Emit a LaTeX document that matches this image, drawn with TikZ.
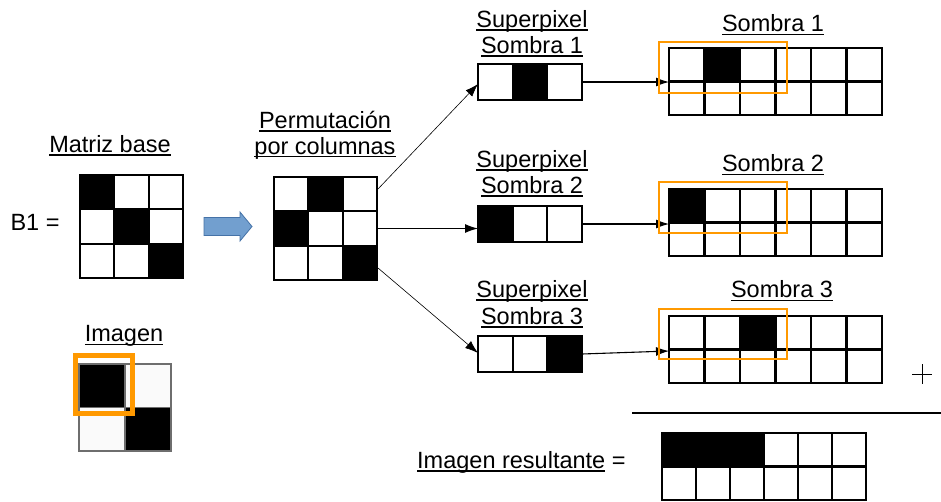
\documentclass[tikz,border=0pt]{standalone}
\usepackage{fontspec}
\setmainfont{Liberation Sans}
\usetikzlibrary{arrows.meta,calc}
\definecolor{orng}{RGB}{255,153,0}
\definecolor{bluefill}{RGB}{114,159,207}
\definecolor{blueedge}{RGB}{69,114,167}
\definecolor{imggray}{RGB}{110,110,110}
\newcommand\myul[1]{\setbox0\hbox{#1}\rlap{\rule[-3.2pt]{\wd0}{1.3pt}}\box0\relax}
\newcommand\cellgrid[7]{%
  \foreach \c in {0,...,#5} \foreach \r in {0,...,#6}
    \draw[cell, fill=white] ({#1+\c*#3},{#2+\r*#4}) rectangle ++(#3,#4);
  \foreach \c/\r in {#7}
    \draw[cell, fill=black] ({#1+\c*#3},{#2+\r*#4}) rectangle ++(#3,#4);}
\begin{document}
\begin{tikzpicture}[x=1pt,y=-1pt,
  lbl/.style={font=\fontsize{23.5}{27}\selectfont, inner sep=0, anchor=base},
  frame/.style={draw=black, line width=2.2pt, inner sep=0, outer sep=0, anchor=north west},
  cell/.style={draw=black, line width=2.2pt},
  hl/.style={draw=orng, line width=2pt},
  conn/.style={draw=black, line width=1.1pt, -{Latex[length=13pt,width=9pt]}},
  thinconn/.style={conn, line width=0.6pt}]
\useasboundingbox[fill=white] (0,0) rectangle (941,501);

% Matriz base
\cellgrid{80}{175}{34.33}{34.33}{2}{2}{0/0,1/1,2/2}
\node[frame, minimum width=103pt, minimum height=103pt] (mb) at (80,175) {};
% Permutacion
\cellgrid{274}{177}{34.33}{34.33}{2}{2}{1/0,0/1,2/2}
\node[frame, minimum width=103pt, minimum height=103pt] (perm) at (274,177) {};
% Superpixels
\cellgrid{478}{64}{34.67}{36}{2}{0}{1/0}
\node[frame, minimum width=104pt, minimum height=36pt] (sp1) at (478,64) {};
\cellgrid{478}{206}{34.67}{36}{2}{0}{0/0}
\node[frame, minimum width=104pt, minimum height=36pt] (sp2) at (478,206) {};
\cellgrid{478}{336}{34.67}{36}{2}{0}{2/0}
\node[frame, minimum width=104pt, minimum height=36pt] (sp3) at (478,336) {};
% Sombras
\cellgrid{669}{48}{35.5}{33.5}{5}{1}{1/0}
\node[frame, minimum width=213pt, minimum height=67pt] (s1) at (669,48) {};
\cellgrid{669}{189}{35.5}{33.5}{5}{1}{0/0}
\node[frame, minimum width=213pt, minimum height=67pt] (s2) at (669,189) {};
\cellgrid{669}{316}{35.5}{33.5}{5}{1}{2/0}
\node[frame, minimum width=213pt, minimum height=67pt] (s3) at (669,316) {};
% Resultado
\cellgrid{662}{433}{34}{33.5}{5}{1}{0/0,1/0,2/0}
\node[frame, minimum width=204pt, minimum height=67pt] (res) at (662,433) {};

% Imagen
\draw[draw=imggray, line width=1.5pt, fill=black] (79,364) rectangle ++(46,43.5);
\draw[draw=imggray, line width=1.5pt, fill=black!2] (125,364) rectangle ++(46,43.5);
\draw[draw=imggray, line width=1.5pt, fill=black!2] (79,407.5) rectangle ++(46,43.5);
\draw[draw=imggray, line width=1.5pt, fill=black] (125,407.5) rectangle ++(46,43.5);
\node[frame, draw=imggray, line width=1.5pt, minimum width=92pt, minimum height=87pt] (img) at (79,364) {};
\draw[orng, line width=5pt] (75.5,355.5) rectangle (132.5,413.5);

% blue arrow
\draw[blueedge, fill=bluefill, line width=0.8pt, line join=miter]
  (204,217.5) -- (240,217.5) -- (240,212) -- (252,226.5) -- (240,241) -- (240,235.5) -- (204,235.5) -- cycle;

% connectors
\draw[thinconn] ($(perm.north east)+(1,12)$) -- ($(sp1.west)+(0,2)$);
\draw[conn] (perm.east) -- (perm.east -| sp2.west);
\draw[thinconn] ($(perm.south east)+(1,-12)$) -- ($(sp3.west)+(0,-1)$);
\draw[conn] (sp1.east) -- (sp1.east -| s1.west);
\draw[conn] (sp2.east) -- (sp2.east -| s2.west);
\draw[conn] (sp3.east) -- ($(s3.west)+(0,1.5)$);

% orange highlights
\draw[hl] (659,42) rectangle (787,93);
\draw[hl] (659,182) rectangle (787,233);
\draw[hl] (659,309) rectangle (787,359);

% plus and sum line
\draw[line width=1pt] (912,374) -- (932,374);
\draw[line width=1pt] (922,364) -- (922,384);
\draw[line width=1.2pt] (632,413) -- (941,413);

% labels
\node[lbl] (tmb) at (110,152.3) {\myul{Matriz base}};
\node[lbl] (tb1) at (35,230) {B1 =};
\node[lbl] (tp1) at (325,128.3) {\myul{Permutación}};
\node[lbl] (tp2) at (325,154) {\myul{por columnas}};
\node[lbl] (tsp1a) at (532,27.3) {\myul{Superpixel}};
\node[lbl] (tsp1b) at (532,53.3) {\myul{Sombra 1}};
\node[lbl] (tsp2a) at (532,167.3) {\myul{Superpixel}};
\node[lbl] (tsp2b) at (532,193.3) {\myul{Sombra 2}};
\node[lbl] (tsp3a) at (532,297.3) {\myul{Superpixel}};
\node[lbl] (tsp3b) at (532,324.3) {\myul{Sombra 3}};
\node[lbl] (ts1) at (773,31.7) {\myul{Sombra 1}};
\node[lbl] (ts2) at (773,171.7) {\myul{Sombra 2}};
\node[lbl] (ts3) at (782,297.7) {\myul{Sombra 3}};
\node[lbl] (timg) at (124,341.7) {\myul{Imagen}};
\node[lbl, anchor=base west] (tres) at (417,468.3) {\myul{Imagen resultante} =};
\end{tikzpicture}
\end{document}
